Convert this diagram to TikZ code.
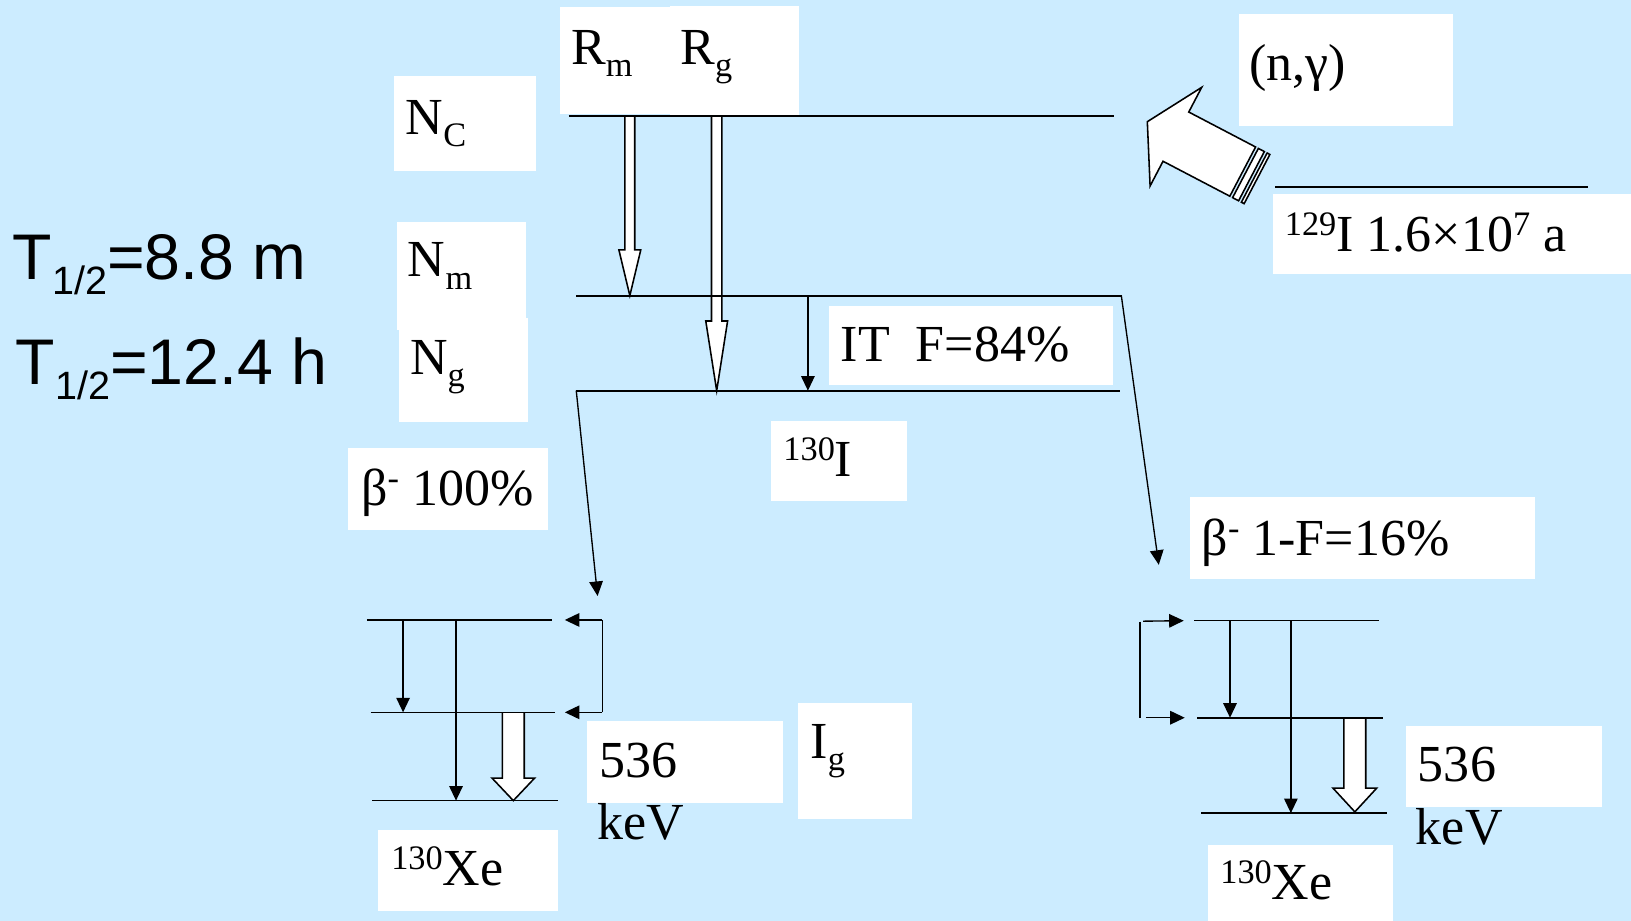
\documentclass[tikz,border=0pt]{standalone}
\usepackage{fontspec}
\setmainfont{Liberation Serif}
\newfontfamily\arialfont{Liberation Sans}
\usetikzlibrary{arrows.meta}
\definecolor{bgblue}{RGB}{204,236,255}
\newcommand\mysub[1]{\raisebox{-0.24em}{\fontsize{33}{33}\selectfont #1}}
\newcommand\mysup[1]{\raisebox{0.31em}{\fontsize{33}{33}\selectfont #1}}
\newcommand\tnr{\fontsize{50}{60}\selectfont}
\newcommand\arl{\arialfont\fontsize{62}{70}\selectfont}
\newcommand\arlsub[1]{\raisebox{-0.23em}{\fontsize{38}{38}\selectfont #1}}
\tikzset{
  lvl/.style={line width=1.8pt},
  arr/.style={line width=1.3pt, -{Triangle[length=14pt,width=13pt]}},
  hollow/.style={line width=1.5pt, fill=white, line join=miter},
  bigarrow/.style={line width=1.5pt, fill=white, line join=miter},
  txt/.style={anchor=base west, inner sep=0pt, font=\tnr},
  sans/.style={anchor=base west, inner sep=0pt, font=\arl},
  wbox/.style={fill=white},
}
\begin{document}
\begin{tikzpicture}[x=1pt,y=-1pt]
\fill[bgblue] (0,0) rectangle (1568,885);
\useasboundingbox (0,0) rectangle (1568,885);

% white boxes
\fill[wbox] (538,6.4) rectangle (650,109.6);
\fill[wbox] (644,5.8) rectangle (768,111.5);
\fill[wbox] (379,73) rectangle (515,164);
\fill[wbox] (382,213) rectangle (505.7,317);
\fill[wbox] (383.6,306) rectangle (507.3,406);
\fill[wbox] (335,431) rectangle (527,510);
\fill[wbox] (741,405) rectangle (872,482);
\fill[wbox] (797,294) rectangle (1070,370);
\fill[wbox] (1191,13.5) rectangle (1397,121);
\fill[wbox] (1224,186.5) rectangle (1568,263.8);
\fill[wbox] (1144,477.6) rectangle (1476,556.8);
\fill[wbox] (564,693) rectangle (753,772);
\fill[wbox] (767,676) rectangle (877,787);
\fill[wbox] (363,798) rectangle (536,876);
\fill[wbox] (1352,698) rectangle (1540,775.5);
\fill[wbox] (1161,812) rectangle (1339,885);

% texts
\node[sans] (th1) at (12,269) {T\arlsub{1/2}=8.8 m};
\node[sans] (th2) at (15,370) {T\arlsub{1/2}=12.4 h};
\node[txt] (rm) at (549,62) {R\mysub{m}};
\node[txt] (rg) at (654,62) {R\mysub{g}};
\node[txt] (nc) at (390,129) {N\mysub{C}};
\node[txt] (nm) at (392,266) {N\mysub{m}};
\node[txt] (ng) at (394,360) {N\mysub{g}};
\node[txt] (it) at (808,348) {IT\ \ F=84\%};
\node[txt] (b100) at (347,486) {β\mysup{-} 100\%};
\node[txt] (i130) at (753,458) {\mysup{130}I};
\node[txt] (ngam) at (1201,77) {(n,γ)};
\node[txt] (i129) at (1235,242) {\mysup{129}I 1.6×10\mysup{7} a};
\node[txt] (b16) at (1155,534) {β\mysup{-} 1-F=16\%};
\node[txt] (e1) at (576,747) {536};
\node[txt] (k1) at (574,807.5) {keV};
\node[txt] (ig) at (779,729) {I\mysub{g}};
\node[txt] (xe1) at (376,851) {\mysup{130}Xe};
\node[txt] (e2) at (1363,751.5) {536};
\node[txt] (k2) at (1361,812) {keV};
\node[txt] (xe2) at (1173,865) {\mysup{130}Xe};

% level coordinates
\coordinate (ncL) at (547,111.5);   \coordinate (ncR) at (1071,111.5);
\coordinate (nmL) at (554,284.2);   \coordinate (nmR) at (1078,284.2);
\coordinate (ngL) at (554,375.6);   \coordinate (ngR) at (1076.5,375.6);
\coordinate (betaL) at (574.5,573);
\coordinate (betaR) at (1114,543);
\coordinate (i129L) at (1226,180);  \coordinate (i129R) at (1527,180);

% hollow arrows Rm and Rg
\draw[hollow] (600.75,111.5) -- (600.75,240.3) -- (595,240.3) -- (605.5,284.2) -- (616,240.3) -- (610.25,240.3) -- (610.25,111.5);
\draw[hollow] (684,111.5) -- (684,308.6) -- (678.5,308.6) -- (689,375.6) -- (699.5,308.6) -- (694,308.6) -- (694,111.5);

% levels of 130I
\draw[lvl] (ncL) -- (ncR);
\draw[lvl] (nmL) -- (nmR);
\draw[lvl] (ngL) -- (ngR);
\draw[line width=1.3pt] (nmR) -- (1078.5,284.2);
\draw[arr] (nmR) -- (betaR);
\draw[arr] (ngL) -- (betaL);
\coordinate (itT) at (776.7,284.2); \coordinate (itB) at (776.7,375.6);
\draw[arr] (itT) -- (itB);
\draw[lvl] (i129L) -- (i129R);

% (n,gamma) striped arrow
\draw[bigarrow] (1103,117) -- (1155.27,83.97) -- (1142.85,107.71) -- (1207.08,141.31)
  -- (1182.32,188.63) -- (1118.09,155.03) -- (1105.67,178.77) -- cycle;
\draw[bigarrow] (1209.74,142.70) -- (1215.50,145.72) -- (1190.74,193.04) -- (1184.98,190.02) -- cycle;
\draw[bigarrow] (1218.16,147.11) -- (1220.81,148.50) -- (1196.05,195.82) -- (1193.40,194.43) -- cycle;

% left 130Xe scheme
\coordinate (x1tL) at (352.6,596); \coordinate (x1tR) at (530.3,596);
\coordinate (x1mL) at (356.3,684.8); \coordinate (x1mR) at (534,684.8);
\coordinate (x1bL) at (358,769.7); \coordinate (x1bR) at (536.5,769.7);
\draw[hollow] (483,684.8) -- (483,748) -- (473,748) -- (493.5,769.7) -- (514,748) -- (504,748) -- (504,684.8);
\draw[line width=1.5pt] (x1tL) -- (x1tR);
\draw[line width=1.5pt] (x1mL) -- (x1mR);
\draw[line width=1.5pt] (x1bL) -- (x1bR);
\draw[arr] (387.5,596) -- (387.5,684.8);
\draw[arr] (438.4,596) -- (438.4,769.7);
\coordinate (br1t) at (579,596); \coordinate (br1b) at (579,684.8);
\draw[line width=1.3pt] (br1t) -- (br1b);
\draw[arr] (br1t) -- (543,596);
\draw[arr] (br1b) -- (543,684.8);

% right 130Xe scheme
\coordinate (x2tL) at (1148,596.7); \coordinate (x2tR) at (1326,596.7);
\coordinate (x2mL) at (1151,690); \coordinate (x2mR) at (1330,690);
\coordinate (x2bL) at (1155,781.7); \coordinate (x2bR) at (1333,781.7);
\draw[hollow] (1292,690) -- (1292,757.7) -- (1281.5,757.7) -- (1302.5,780.5) -- (1323.5,757.7) -- (1313,757.7) -- (1313,690);
\draw[line width=1.5pt] (x2tL) -- (x2tR);
\draw[line width=1.5pt] (x2mL) -- (x2mR);
\draw[line width=1.5pt] (x2bL) -- (x2bR);
\draw[arr] (1182.5,596.7) -- (1182.5,690);
\draw[arr] (1241,596.7) -- (1241,781.7);
\coordinate (br2t) at (1096,597.6); \coordinate (br2b) at (1096,690);
\draw[line width=1.3pt] (br2t) -- (br2b);
\draw[arr] (1099,597.2) -- (1138,596.7);
\draw[arr] (1101.7,690) -- (1139,690);
\end{tikzpicture}
\end{document}
